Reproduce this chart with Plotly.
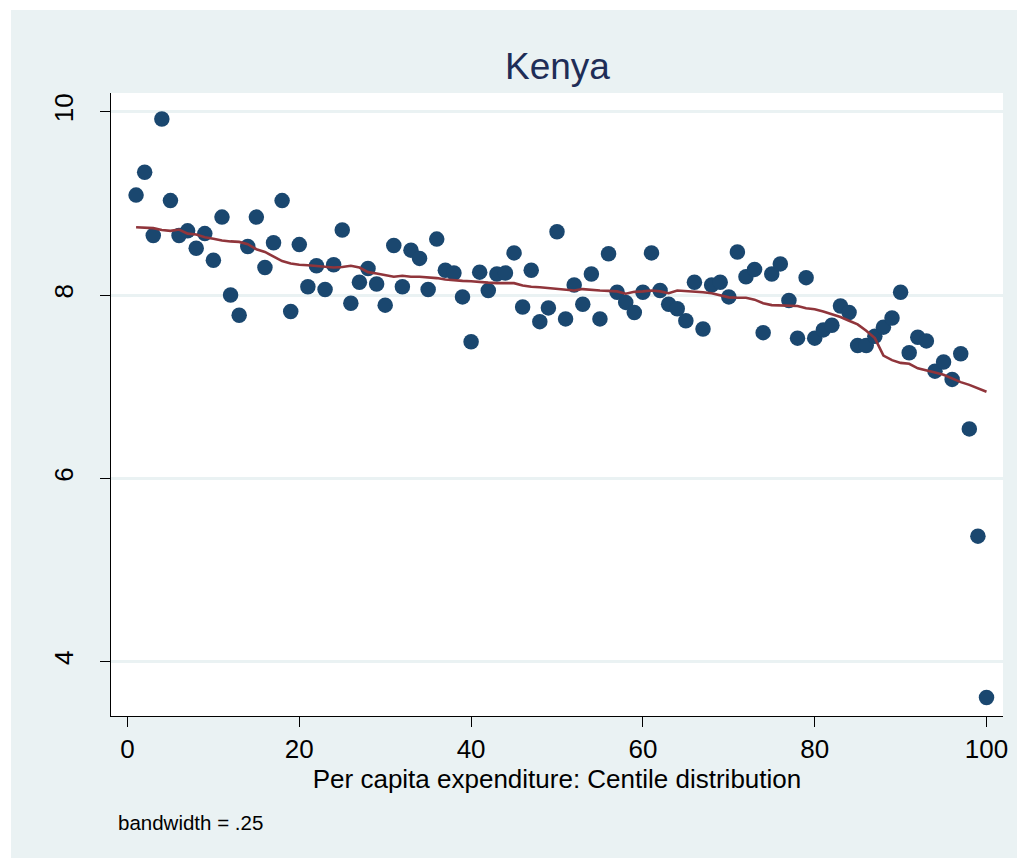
import plotly.graph_objects as go

# Centile of per capita expenditure
centile = list(range(1, 101))

# Observed values per centile
observed = [
    9.09, 9.34, 8.65, 9.92, 9.03, 8.65, 8.70, 8.51, 8.67, 8.38,
    8.85, 8.00, 7.78, 8.53, 8.85, 8.30, 8.57, 9.03, 7.82, 8.55,
    8.09, 8.32, 8.06, 8.33, 8.71, 7.91, 8.14, 8.29, 8.12, 7.89,
    8.54, 8.09, 8.49, 8.40, 8.06, 8.61, 8.27, 8.24, 7.98, 7.49,
    8.25, 8.05, 8.23, 8.24, 8.46, 7.87, 8.27, 7.71, 7.86, 8.69,
    7.74, 8.11, 7.90, 8.23, 7.74, 8.45, 8.03, 7.92, 7.81, 8.03,
    8.46, 8.05, 7.90, 7.85, 7.72, 8.14, 7.63, 8.11, 8.14, 7.98,
    8.47, 8.20, 8.28, 7.59, 8.23, 8.34, 7.94, 7.53, 8.19, 7.53,
    7.62, 7.67, 7.88, 7.81, 7.45, 7.45, 7.55, 7.65, 7.75, 8.03,
    7.37, 7.54, 7.50, 7.17, 7.27, 7.08, 7.36, 6.54, 5.37, 3.61,
]

# Lowess smooth (bandwidth = .25)
smoothed = [
    8.740, 8.735, 8.730, 8.710, 8.700, 8.715, 8.670, 8.660, 8.630, 8.615,
    8.595, 8.585, 8.580, 8.555, 8.500, 8.470, 8.420, 8.370, 8.345, 8.330,
    8.325, 8.315, 8.305, 8.300, 8.305, 8.320, 8.300, 8.250, 8.235, 8.215,
    8.200, 8.210, 8.200, 8.200, 8.195, 8.185, 8.170, 8.160, 8.155, 8.150,
    8.140, 8.135, 8.130, 8.130, 8.130, 8.105, 8.090, 8.085, 8.075, 8.070,
    8.060, 8.050, 8.065, 8.055, 8.050, 8.045, 8.040, 8.015, 8.035, 8.040,
    8.050, 8.040, 8.020, 8.050, 8.045, 8.035, 8.030, 8.020, 8.000, 7.975,
    7.970, 7.970, 7.950, 7.910, 7.890, 7.885, 7.880, 7.880, 7.855, 7.845,
    7.820, 7.790, 7.760, 7.720, 7.680, 7.610, 7.530, 7.340, 7.290, 7.260,
    7.250, 7.200, 7.180, 7.155, 7.130, 7.090, 7.050, 7.020, 6.980, 6.945,
]

x_ticks = [0, 20, 40, 60, 80, 100]
y_ticks = [4, 6, 8, 10]

FONT = "Liberation Sans, Arial, sans-serif"
BG = "#EAF2F3"
NAVY = "#1A476F"
MAROON = "#90353B"

fig = go.Figure()
fig.add_trace(go.Scatter(
    x=centile, y=observed, mode="markers",
    marker=dict(color=NAVY, size=15.5, line=dict(width=0)),
    showlegend=False,
))
fig.add_trace(go.Scatter(
    x=centile, y=smoothed, mode="lines",
    line=dict(color=MAROON, width=2.6),
    showlegend=False,
))

W, H = 1017, 859
L, R, T, B = 111, 14, 93, 143
pw, ph = W - L - R, H - T - B

def px(xp):
    return (xp - L) / pw

def py(yp):
    return (H - B - yp) / ph

# thin white frame around the tinted page (top, left, bottom)
white_strips = [
    dict(x0=px(0), x1=px(W), y0=py(10), y1=py(0)),
    dict(x0=px(0), x1=px(11), y0=py(H), y1=py(0)),
    dict(x0=px(0), x1=px(W), y0=py(H), y1=py(H - 1)),
]
shapes = [dict(type="rect", xref="paper", yref="paper", layer="above",
               fillcolor="white", line=dict(width=0), **s) for s in white_strips]

fig.update_layout(
    width=W, height=H,
    margin=dict(l=L, r=R, t=T, b=B, pad=0, autoexpand=False),
    paper_bgcolor=BG,
    plot_bgcolor="white",
    font=dict(family=FONT, color="black"),
    shapes=shapes,
    annotations=[
        dict(text="Kenya", xref="paper", yref="paper",
             x=0.5, y=py(66), xanchor="center", yanchor="middle",
             showarrow=False, font=dict(size=37, color="#1E2D57", family=FONT)),
        dict(text="bandwidth = .25", xref="paper", yref="paper",
             x=px(116), y=py(822), xanchor="left", yanchor="middle",
             showarrow=False, font=dict(size=20.5, color="black", family=FONT)),
    ],
    xaxis=dict(
        range=[-1.92, 101.92], automargin=False,
        tickvals=x_ticks, ticktext=[str(v) for v in x_ticks],
        ticks="outside", ticklen=10, tickwidth=1.2, tickcolor="black",
        showline=True, linecolor="black", linewidth=1.3,
        showgrid=False, zeroline=False,
        tickfont=dict(size=26, family=FONT),
        title=dict(text="Per capita expenditure: Centile distribution",
                   font=dict(size=26, family=FONT), standoff=2),
    ),
    yaxis=dict(
        range=[3.408, 10.204], automargin=False,
        tickvals=y_ticks, ticktext=[str(v) for v in y_ticks],
        ticks="outside", ticklen=10, tickwidth=1.2, tickcolor="black",
        showline=True, linecolor="black", linewidth=1.3,
        showgrid=True, gridcolor=BG, gridwidth=2.5,
        zeroline=False, tickangle=-90, ticklabelstandoff=16,
        tickfont=dict(size=26, family=FONT),
    ),
)

fig.write_html("out.html")
